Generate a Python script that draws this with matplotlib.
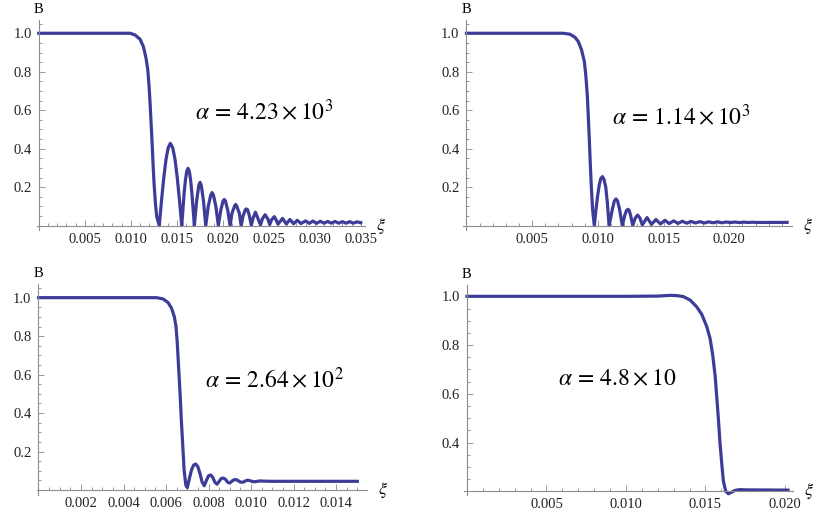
import numpy as np
import matplotlib
matplotlib.use("Agg")
import matplotlib.pyplot as plt
from matplotlib.ticker import MultipleLocator, FormatStrFormatter

plt.rcParams['font.family'] = ['Liberation Serif', 'DejaVu Serif']
plt.rcParams['mathtext.fontset'] = 'stix'

# ---- data ----
# top left, alpha = 4.23e3
xi1 = [0, 0.0090, 0.00993, 0.01047, 0.01101, 0.01137, 0.01166, 0.01185, 0.01199, 0.0121,
       0.01221, 0.01232, 0.01242, 0.01253, 0.01268, 0.01282, 0.0131,
       0.01334, 0.01359, 0.01383, 0.01407, 0.0143, 0.01456, 0.01481, 0.01505, 0.0153, 0.01554,
       0.01568, 0.01581, 0.01595, 0.01609, 0.01622, 0.01636, 0.0165, 0.01663, 0.01677, 0.01691,
       0.01716, 0.0174, 0.01753, 0.01766, 0.0179, 0.01815,
       0.01842, 0.0187, 0.01884, 0.01898, 0.01925, 0.01952,
       0.01978, 0.02003, 0.02016, 0.02029, 0.02054, 0.0208,
       0.0210, 0.0213, 0.0214, 0.0215, 0.0218, 0.0220,
       0.0222, 0.02245, 0.02255, 0.0227, 0.0229, 0.0231,
       0.0233, 0.02355, 0.0238, 0.0241,
       0.0243, 0.0246, 0.0249, 0.0251,
       0.0253, 0.0256, 0.0258, 0.0260,
       0.0265, 0.0269, 0.0273, 0.0277, 0.0281, 0.0285, 0.0290, 0.0294,
       0.0298, 0.0302, 0.0306, 0.0310, 0.0314, 0.0318, 0.0322, 0.0326,
       0.0330, 0.0334, 0.0338, 0.0342, 0.0346, 0.0350]
b1 = [1.0, 1.0, 1.0, 0.991, 0.969, 0.931, 0.87, 0.81, 0.723, 0.636,
      0.532, 0.428, 0.324, 0.22, 0.116, 0.047, 0.0,
      0.13, 0.25, 0.345, 0.405, 0.428, 0.405, 0.345, 0.25, 0.13, 0.0,
      0.09, 0.175, 0.24, 0.283, 0.298, 0.283, 0.24, 0.175, 0.09, 0.0,
      0.13, 0.21, 0.225, 0.21, 0.13, 0.0,
      0.10, 0.16, 0.172, 0.16, 0.10, 0.0,
      0.08, 0.128, 0.136, 0.128, 0.08, 0.0,
      0.065, 0.104, 0.11, 0.104, 0.065, 0.0,
      0.05, 0.083, 0.087, 0.083, 0.05, 0.002,
      0.04, 0.07, 0.04, 0.004,
      0.035, 0.057, 0.035, 0.006,
      0.03, 0.047, 0.03, 0.008,
      0.038, 0.009, 0.032, 0.010, 0.028, 0.011, 0.025, 0.012,
      0.024, 0.012, 0.023, 0.013, 0.022, 0.013, 0.022, 0.013,
      0.021, 0.013, 0.021, 0.013, 0.020, 0.015]

# top right, alpha = 1.14e3
xi2 = [0, 0.0070, 0.00737, 0.00788, 0.00826, 0.00851, 0.00876, 0.00897, 0.00909, 0.0092,
       0.00927, 0.00935, 0.00942, 0.0095, 0.0096, 0.00973,
       0.00985, 0.00997, 0.0101, 0.01022, 0.01035, 0.01047, 0.0106, 0.01072, 0.01085,
       0.0111, 0.01125, 0.01138, 0.0115, 0.01165, 0.01186,
       0.01205, 0.01218, 0.01228, 0.01238, 0.0125, 0.01265,
       0.01285, 0.01302, 0.0132, 0.01338,
       0.01374, 0.01408, 0.01442, 0.01476, 0.0151, 0.01543,
       0.01576, 0.0161, 0.01643, 0.01676, 0.0171, 0.01743, 0.01776, 0.0181,
       0.01843, 0.01876, 0.0191, 0.01943, 0.01976, 0.0201, 0.02043, 0.02076,
       0.0211, 0.0214, 0.0218, 0.0221, 0.0244]
b2 = [1.0, 1.0, 1.0, 0.995, 0.979, 0.957, 0.913, 0.853, 0.775, 0.671,
      0.567, 0.445, 0.324, 0.203, 0.081, 0.0,
      0.08, 0.15, 0.21, 0.245, 0.255, 0.24, 0.20, 0.12, 0.0,
      0.085, 0.128, 0.139, 0.128, 0.085, 0.0,
      0.055, 0.08, 0.085, 0.08, 0.05, 0.002,
      0.04, 0.055, 0.04, 0.004,
      0.042, 0.007, 0.032, 0.009, 0.028, 0.011,
      0.025, 0.012, 0.023, 0.013, 0.022, 0.014, 0.021, 0.014,
      0.020, 0.015, 0.020, 0.015, 0.019, 0.016, 0.019, 0.016,
      0.0185, 0.0165, 0.018, 0.0167, 0.0172]

# bottom left, alpha = 2.64e2
xi3 = [0, 0.0050, 0.00556, 0.00587, 0.0061, 0.00626, 0.00639, 0.00647, 0.00653, 0.00659,
       0.00666, 0.00672, 0.00679, 0.00685, 0.00693, 0.0070,
       0.0071, 0.0072, 0.0073, 0.0074, 0.0075, 0.0076, 0.0077, 0.0078,
       0.0079, 0.0080, 0.0081, 0.0082, 0.0083, 0.0084,
       0.0085, 0.0086, 0.0087, 0.0088, 0.0089, 0.0090,
       0.0091, 0.0092, 0.0093, 0.0094, 0.0095, 0.0096,
       0.0098, 0.0099, 0.0101, 0.0102, 0.0104, 0.0106, 0.0110, 0.0150]
b3 = [1.0, 1.0, 1.0, 0.993, 0.974, 0.945, 0.901, 0.849, 0.763, 0.641,
      0.503, 0.364, 0.225, 0.104, 0.026, 0.012,
      0.06, 0.105, 0.13, 0.135, 0.12, 0.085, 0.04, 0.022,
      0.05, 0.074, 0.078, 0.065, 0.04, 0.03,
      0.045, 0.06, 0.062, 0.055, 0.04, 0.036,
      0.046, 0.053, 0.054, 0.048, 0.041, 0.040,
      0.050, 0.050, 0.043, 0.043, 0.047, 0.046, 0.045, 0.045]

# bottom right, alpha = 4.8e1
xi4 = [0, 0.0100, 0.0120, 0.01278, 0.0132, 0.01361, 0.01403, 0.01445, 0.01477, 0.01508,
       0.01529, 0.01546, 0.01561, 0.01571, 0.01582, 0.01592, 0.01603, 0.01613, 0.01628,
       0.01645, 0.01666, 0.01687, 0.01718, 0.0176, 0.0202]
b4 = [1.0, 1.0, 1.001, 1.004, 1.003, 0.999, 0.985, 0.957, 0.926, 0.877,
      0.828, 0.759, 0.675, 0.591, 0.493, 0.396, 0.312, 0.242, 0.20,
      0.19, 0.197, 0.204, 0.207, 0.206, 0.205]

labels = [r'$\alpha\,=\,4.23\times10^{3}$', r'$\alpha\,=\,1.14\times10^{3}$',
          r'$\alpha\,=\,2.64\times10^{2}$', r'$\alpha\,=\,4.8\times10$']
label_pos = [(0.0245, 0.59), (0.01632, 0.565), (0.01108, 0.572), (0.00944, 0.656)]

xminor = [0.001, 0.001, 0.0005, 0.001]
xticks = [[0.005, 0.010, 0.015, 0.020, 0.025, 0.030, 0.035],
          [0.005, 0.010, 0.015, 0.020],
          [0.002, 0.004, 0.006, 0.008, 0.010, 0.012, 0.014],
          [0.005, 0.010, 0.015, 0.020]]
yticks = [[0.2, 0.4, 0.6, 0.8, 1.0]] * 3 + [[0.4, 0.6, 0.8, 1.0]]
yorigin = [0, 0, 0, 0.2]

xlims = [(-0.0002, 0.0355), (-0.00024, 0.02475), (-0.000085, 0.01544), (-0.0002, 0.02053)]
ylims = [(-0.025, 1.07), (-0.025, 1.07), (-0.025, 1.07), (0.185, 1.047)]
rects = [[0.0445, 0.5507, 0.3957, 0.4107],
         [0.5582, 0.5507, 0.3957, 0.4107],
         [0.0442, 0.0355, 0.3976, 0.4105],
         [0.5588, 0.0351, 0.3970, 0.4096]]

series = [(xi1, b1), (xi2, b2), (xi3, b3), (xi4, b4)]
line_color = '#3d3d99'
axis_color = '#8c8c8c'

fig = plt.figure(figsize=(8.3, 5.13), dpi=100)

for i in range(4):
    ax = fig.add_axes(rects[i])
    x, y = series[i]
    ax.plot(x, y, color=line_color, lw=2.3, solid_joinstyle='round', clip_on=False)
    ax.set_xlim(*xlims[i])
    ax.set_ylim(*ylims[i])

    for s in ['top', 'right']:
        ax.spines[s].set_visible(False)
    ax.spines['left'].set_position(('data', 0))
    ax.spines['bottom'].set_position(('data', yorigin[i]))
    for s in ['left', 'bottom']:
        ax.spines[s].set_color(axis_color)
        ax.spines[s].set_linewidth(0.8)

    ax.set_xticks(xticks[i])
    ax.xaxis.set_minor_locator(MultipleLocator(xminor[i]))
    ax.set_yticks(yticks[i])
    ax.yaxis.set_minor_locator(MultipleLocator(0.05))
    ax.xaxis.set_major_formatter(FormatStrFormatter('%.3f'))
    ax.yaxis.set_major_formatter(FormatStrFormatter('%.1f'))
    ax.tick_params(which='both', direction='in', color=axis_color, width=0.6,
                   labelsize=10.5, labelcolor='#222222')
    ax.tick_params(which='major', length=4, pad=5)
    ax.tick_params(which='minor', length=2.2)

    ax.annotate('B', xy=(0, ylims[i][1]), xytext=(0, 3), textcoords='offset points',
                ha='center', va='bottom', fontsize=10.5, annotation_clip=False)
    ax.annotate(r'$\xi$', xy=(xlims[i][1], yorigin[i]), xytext=(8, 0), textcoords='offset points',
                ha='left', va='center', fontsize=13, annotation_clip=False)
    ax.text(label_pos[i][0], label_pos[i][1], labels[i], ha='center', va='center', fontsize=17)

fig.savefig('out.png', dpi=100)
